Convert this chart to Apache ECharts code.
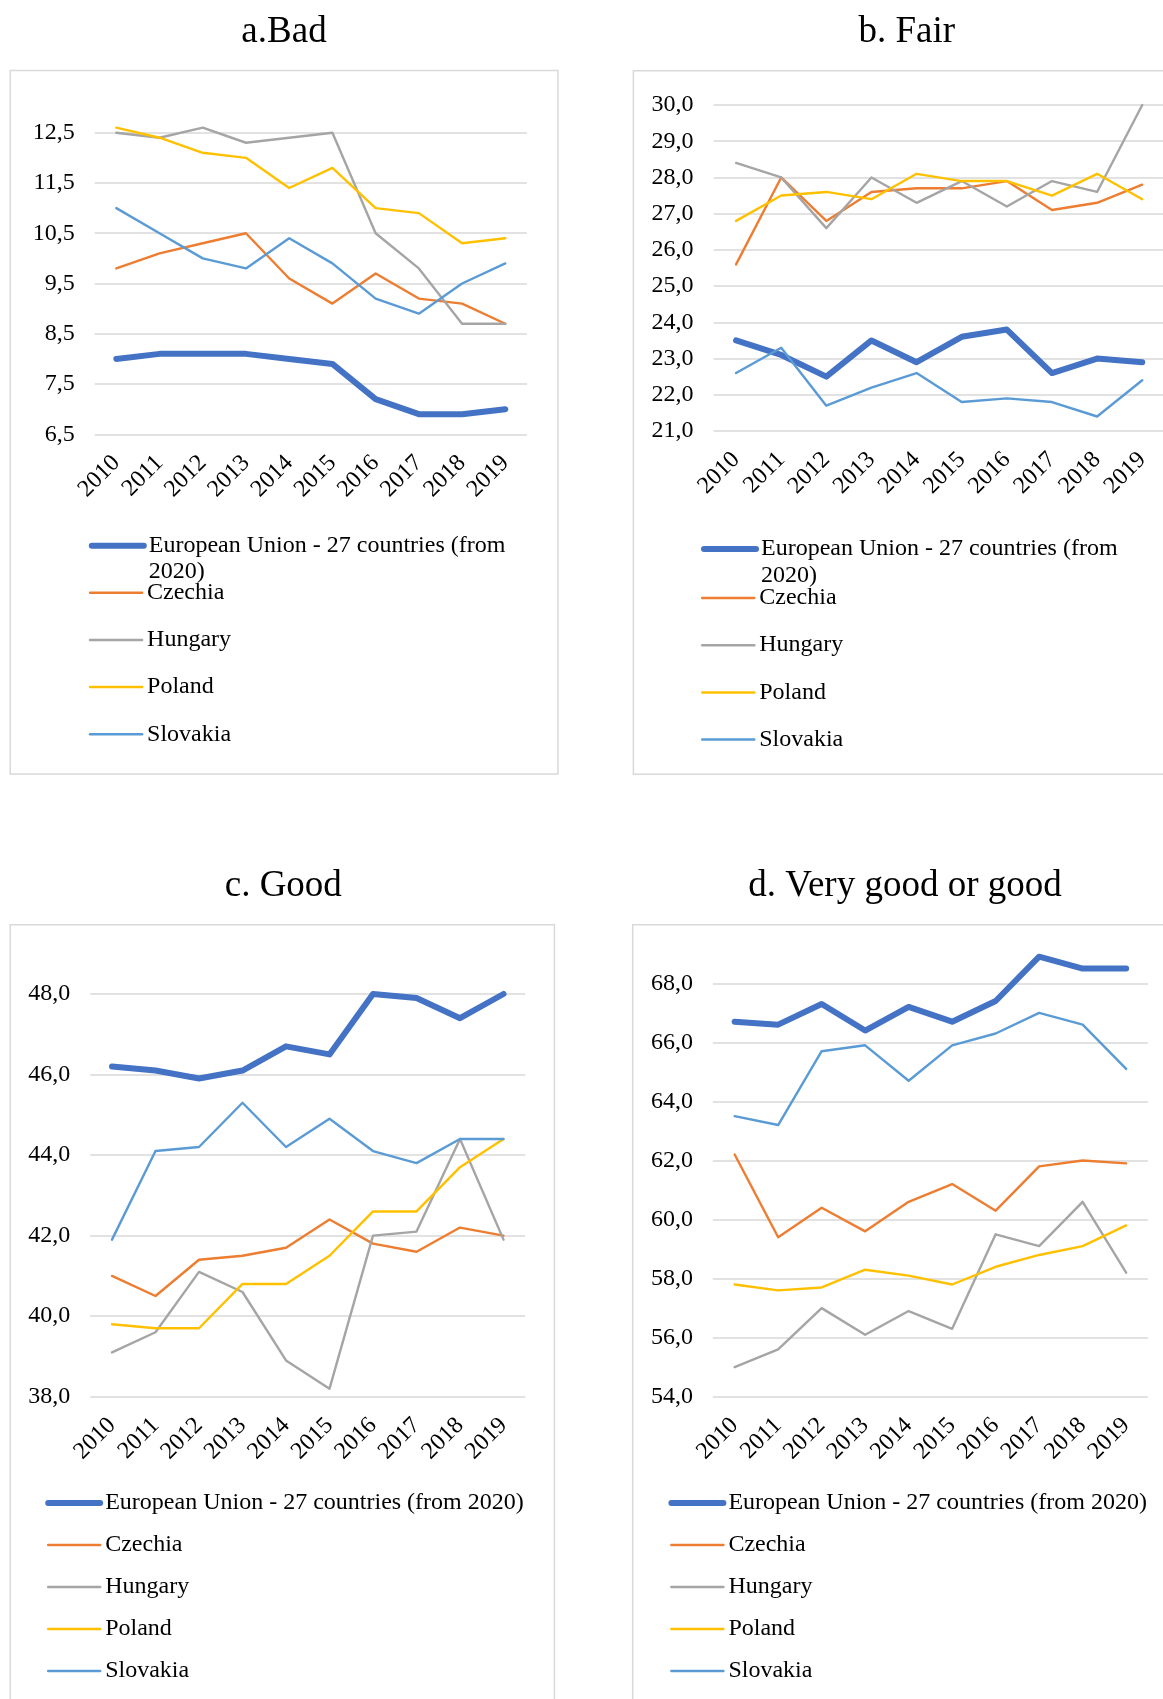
<!DOCTYPE html>
<html>
<head>
<meta charset="utf-8">
<script src="https://cdn.jsdelivr.net/npm/echarts@6/dist/echarts.min.js"></script>
<style>
  html, body { margin: 0; padding: 0; background: #fff; }
  #chart { width: 1163px; height: 1699px; }
</style>
</head>
<body>
<div id="chart"></div>
<script>
// Self-rated health by category, EU-27 vs. Visegrád countries (% of population)
const years = ['2010', '2011', '2012', '2013', '2014', '2015', '2016', '2017', '2018', '2019'];
const seriesNames = ['European Union - 27 countries (from 2020)', 'Czechia', 'Hungary', 'Poland', 'Slovakia'];
const seriesColors = ['#4472C4', '#ED7D31', '#A5A5A5', '#FFC000', '#5B9BD5'];
const panelTitles = ['a.Bad', 'b. Fair', 'c. Good', 'd. Very good or good'];

// a. Bad
const badEU = [8.0, 8.1, 8.1, 8.1, 8.0, 7.9, 7.2, 6.9, 6.9, 7.0];
const badCZ = [9.8, 10.1, 10.3, 10.5, 9.6, 9.1, 9.7, 9.2, 9.1, 8.7];
const badHU = [12.5, 12.4, 12.6, 12.3, 12.4, 12.5, 10.5, 9.8, 8.7, 8.7];
const badPL = [12.6, 12.4, 12.1, 12.0, 11.4, 11.8, 11.0, 10.9, 10.3, 10.4];
const badSK = [11.0, 10.5, 10.0, 9.8, 10.4, 9.9, 9.2, 8.9, 9.5, 9.9];

// b. Fair
const fairEU = [23.5, 23.1, 22.5, 23.5, 22.9, 23.6, 23.8, 22.6, 23.0, 22.9];
const fairCZ = [25.6, 28.0, 26.8, 27.6, 27.7, 27.7, 27.9, 27.1, 27.3, 27.8];
const fairHU = [28.4, 28.0, 26.6, 28.0, 27.3, 27.9, 27.2, 27.9, 27.6, 30.0];
const fairPL = [26.8, 27.5, 27.6, 27.4, 28.1, 27.9, 27.9, 27.5, 28.1, 27.4];
const fairSK = [22.6, 23.3, 21.7, 22.2, 22.6, 21.8, 21.9, 21.8, 21.4, 22.4];

// c. Good
const goodEU = [46.2, 46.1, 45.9, 46.1, 46.7, 46.5, 48.0, 47.9, 47.4, 48.0];
const goodCZ = [41.0, 40.5, 41.4, 41.5, 41.7, 42.4, 41.8, 41.6, 42.2, 42.0];
const goodHU = [39.1, 39.6, 41.1, 40.6, 38.9, 38.2, 42.0, 42.1, 44.4, 41.9];
const goodPL = [39.8, 39.7, 39.7, 40.8, 40.8, 41.5, 42.6, 42.6, 43.7, 44.4];
const goodSK = [41.9, 44.1, 44.2, 45.3, 44.2, 44.9, 44.1, 43.8, 44.4, 44.4];

// d. Very good or good
const vgoodEU = [66.7, 66.6, 67.3, 66.4, 67.2, 66.7, 67.4, 68.9, 68.5, 68.5];
const vgoodCZ = [62.2, 59.4, 60.4, 59.6, 60.6, 61.2, 60.3, 61.8, 62.0, 61.9];
const vgoodHU = [55.0, 55.6, 57.0, 56.1, 56.9, 56.3, 59.5, 59.1, 60.6, 58.2];
const vgoodPL = [57.8, 57.6, 57.7, 58.3, 58.1, 57.8, 58.4, 58.8, 59.1, 59.8];
const vgoodSK = [63.5, 63.2, 65.7, 65.9, 64.7, 65.9, 66.3, 67.0, 66.6, 65.1];

// value-axis ranges and gridline steps per panel
const axisMin = [6.5, 21, 38, 54];
const axisMax = [12.5, 30, 48, 68];
const axisStep = [1, 1, 2, 2];

const panelData = [
  [badEU, badCZ, badHU, badPL, badSK],
  [fairEU, fairCZ, fairHU, fairPL, fairSK],
  [goodEU, goodCZ, goodHU, goodPL, goodSK],
  [vgoodEU, vgoodCZ, vgoodHU, vgoodPL, vgoodSK]
];

const FONT = '"Liberation Serif", "Times New Roman", serif';
const LABEL_SIZE = 24;

// layout of the four panels
const layout = [
  { grid: { left: 94.7, top: 132.7, width: 432.2, height: 301.6 }, titleX: 284, titleY: 13.5,
    frame: { x: 10.2, y: 70.5, w: 547.8, h: 703.5 },
    legendLeft: 88.8, euTop: 506.7, euLine: 26, restTop: 580.7, gap: 23.2, wrap: true },
  { grid: { left: 713.5, top: 105, width: 451.3, height: 326 }, titleX: 906.7, titleY: 13.5,
    frame: { x: 633.4, y: 70.7, w: 560, h: 703.6 },
    legendLeft: 701, euTop: 508.5, euLine: 27, restTop: 586, gap: 23.2, wrap: true },
  { grid: { left: 90.25, top: 994, width: 435, height: 402.7 }, titleX: 283.3, titleY: 868,
    frame: { x: 10.2, y: 924.7, w: 544.2, h: 800 },
    legendLeft: 45.2, restTop: 1491, gap: 18, wrap: false },
  { grid: { left: 712.9, top: 983.3, width: 435, height: 413.4 }, titleX: 905, titleY: 868,
    frame: { x: 632.7, y: 924.7, w: 560, h: 800 },
    legendLeft: 668.4, restTop: 1491, gap: 18, wrap: false }
];

const fmt = v => v.toFixed(1).replace('.', ',');

const option = {
  animation: false,
  backgroundColor: '#fff',
  textStyle: { fontFamily: FONT, color: '#000' },
  title: [],
  grid: [],
  xAxis: [],
  yAxis: [],
  legend: [],
  series: [],
  graphic: []
};

layout.forEach((p, i) => {
  option.graphic.push({
    type: 'rect', silent: true, z: -10,
    shape: { x: p.frame.x, y: p.frame.y, width: p.frame.w, height: p.frame.h },
    style: { fill: 'none', stroke: '#d9d9d9', lineWidth: 1.5 }
  });

  option.title.push({
    text: panelTitles[i], left: p.titleX, top: p.titleY, textAlign: 'center', padding: 0,
    textStyle: { fontFamily: FONT, fontSize: 37, fontWeight: 'normal', color: '#000' }
  });

  option.grid.push(Object.assign({ containLabel: false, outerBoundsMode: 'none' }, p.grid));

  option.xAxis.push({
    type: 'category', gridIndex: i, data: years, boundaryGap: true,
    axisLine: { show: false }, axisTick: { show: false },
    axisLabel: { rotate: 45, margin: 25, interval: 0, fontFamily: FONT, fontSize: LABEL_SIZE, color: '#000' },
    splitLine: { show: false }
  });

  option.yAxis.push({
    type: 'value', gridIndex: i, min: axisMin[i], max: axisMax[i], interval: axisStep[i],
    axisLine: { show: false }, axisTick: { show: false },
    axisLabel: { margin: 20, fontFamily: FONT, fontSize: LABEL_SIZE, color: '#000', formatter: fmt },
    splitLine: { show: true, lineStyle: { color: '#d9d9d9', width: 1.5 } }
  });

  seriesNames.forEach((name, k) => {
    option.series.push({
      type: 'line', name: name, xAxisIndex: i, yAxisIndex: i,
      data: panelData[i][k],
      symbol: 'none', clip: false, smooth: false,
      lineStyle: { color: seriesColors[k], width: k === 0 ? 6 : 2.4, cap: 'round', join: 'round' },
      itemStyle: { color: seriesColors[k] },
      z: 2 + k
    });
  });

  // legend keys are plain line strokes (no marker)
  const hiddenMarker = { opacity: 0, borderWidth: 0 };
  const euItem = { name: seriesNames[0], lineStyle: { width: 6, cap: 'round' }, itemStyle: hiddenMarker };
  const countryItems = seriesNames.slice(1).map(n => ({ name: n, lineStyle: { width: 2.5 }, itemStyle: hiddenMarker }));
  const legendBase = {
    orient: 'vertical', left: p.legendLeft, padding: 0, itemWidth: 52, itemHeight: 14,
    selectedMode: false, itemStyle: hiddenMarker
  };

  if (p.wrap) {
    // EU entry wraps onto a second line; a leading blank line keeps the key level with the first line
    option.legend.push(Object.assign({}, legendBase, {
      top: p.euTop, data: [euItem],
      formatter: n => '\n' + n.replace('(from 2020)', '(from\n2020)'),
      textStyle: { fontFamily: FONT, fontSize: LABEL_SIZE, color: '#000', lineHeight: p.euLine }
    }));
    option.legend.push(Object.assign({}, legendBase, {
      top: p.restTop, itemGap: p.gap, data: countryItems,
      textStyle: { fontFamily: FONT, fontSize: LABEL_SIZE, color: '#000', lineHeight: 24 }
    }));
  } else {
    option.legend.push(Object.assign({}, legendBase, {
      top: p.restTop, itemGap: p.gap, data: [euItem].concat(countryItems),
      textStyle: { fontFamily: FONT, fontSize: LABEL_SIZE, color: '#000', lineHeight: 24 }
    }));
  }
});

const chart = echarts.init(document.getElementById('chart'), null, { renderer: 'canvas' });
chart.setOption(option);
</script>
</body>
</html>
